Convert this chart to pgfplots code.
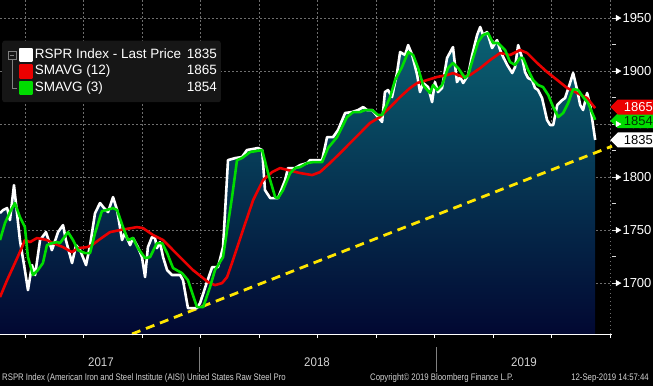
\documentclass[border=0pt]{standalone}
\usepackage{pgfplots}
\pgfplotsset{compat=1.18}
\usepackage{pgfplotstable}
\usepgfplotslibrary{fillbetween}
\usetikzlibrary{shapes.symbols}
\usepackage{fontspec}
\setmainfont{Liberation Sans}
\newfontfamily\footfont[FakeStretch=0.82]{Liberation Sans}
\newfontfamily\yearfont[FakeStretch=0.92]{Liberation Sans}

\definecolor{bbred}{RGB}{235,0,0}
\definecolor{bbgreen}{RGB}{0,220,0}
\definecolor{bbyellow}{RGB}{255,230,0}
\definecolor{areatop}{RGB}{10,98,115}
\definecolor{areabot}{RGB}{2,8,50}
\definecolor{gridc}{RGB}{110,110,110}
\definecolor{legbg}{RGB}{22,22,22}
\definecolor{footc}{RGB}{210,210,210}
\definecolor{darkgreentext}{RGB}{0,50,0}
\pagecolor{black}

\pgfplotstableread{
x y
2017.160 1766.0
2017.173 1768.9
2017.190 1770.8
2017.202 1759.4
2017.219 1792.4
2017.244 1740.6
2017.265 1712.3
2017.278 1693.4
2017.295 1717.0
2017.308 1707.6
2017.329 1740.6
2017.354 1748.1
2017.379 1731.1
2017.405 1748.1
2017.426 1754.7
2017.438 1740.6
2017.464 1718.9
2017.481 1735.8
2017.498 1731.1
2017.523 1717.0
2017.540 1735.8
2017.561 1766.0
2017.582 1775.5
2017.599 1770.8
2017.616 1767.0
2017.637 1781.1
2017.654 1768.9
2017.675 1740.6
2017.687 1747.2
2017.709 1735.8
2017.721 1742.5
2017.742 1733.9
2017.759 1724.5
2017.772 1705.7
2017.784 1733.9
2017.801 1743.4
2017.814 1742.5
2017.822 1733.0
2017.835 1738.7
2017.848 1724.5
2017.865 1712.3
2017.886 1707.6
2017.920 1707.6
2017.932 1702.8
2017.953 1676.4
2017.991 1676.4
2018.004 1681.1
2018.029 1698.1
2018.055 1715.1
2018.080 1715.1
2018.101 1733.9
2018.122 1816.0
2018.152 1817.9
2018.181 1818.9
2018.202 1825.5
2018.249 1827.4
2018.266 1825.5
2018.278 1787.7
2018.300 1780.2
2018.333 1780.2
2018.363 1797.2
2018.375 1808.5
2018.405 1808.5
2018.426 1811.3
2018.456 1813.2
2018.468 1816.0
2018.519 1816.0
2018.540 1837.7
2018.565 1837.7
2018.586 1844.3
2018.616 1860.4
2018.645 1861.3
2018.671 1863.2
2018.692 1866.0
2018.709 1863.2
2018.730 1863.2
2018.755 1856.6
2018.772 1852.0
2018.784 1880.2
2018.797 1882.1
2018.814 1875.5
2018.835 1898.1
2018.848 1917.9
2018.869 1915.1
2018.882 1924.5
2018.899 1915.1
2018.920 1896.2
2018.932 1880.2
2018.945 1888.7
2018.966 1884.9
2018.983 1870.7
2018.995 1889.6
2019.008 1880.2
2019.025 1884.0
2019.046 1912.3
2019.071 1922.6
2019.088 1889.6
2019.101 1894.4
2019.114 1888.7
2019.135 1896.2
2019.152 1915.1
2019.173 1934.0
2019.186 1941.5
2019.198 1934.0
2019.215 1936.8
2019.236 1921.7
2019.257 1929.2
2019.270 1919.8
2019.283 1913.2
2019.300 1905.7
2019.321 1898.1
2019.333 1903.8
2019.346 1924.5
2019.363 1912.3
2019.375 1899.1
2019.388 1893.4
2019.405 1891.5
2019.417 1884.0
2019.430 1882.1
2019.447 1874.5
2019.468 1853.8
2019.481 1849.1
2019.494 1849.1
2019.511 1867.9
2019.532 1872.6
2019.544 1874.5
2019.565 1888.7
2019.578 1898.1
2019.595 1882.1
2019.608 1867.9
2019.620 1863.2
2019.637 1879.3
2019.650 1867.9
2019.671 1835.0
}\whitetab

\pgfplotstableread{
x y
2017.160 1686.8
2017.190 1702.8
2017.223 1718.9
2017.253 1733.9
2017.265 1740.6
2017.287 1738.7
2017.316 1742.5
2017.358 1740.6
2017.384 1737.7
2017.426 1733.9
2017.464 1729.2
2017.489 1733.0
2017.527 1733.9
2017.548 1735.8
2017.582 1741.5
2017.624 1748.1
2017.666 1750.0
2017.738 1752.8
2017.763 1751.9
2017.806 1745.3
2017.848 1740.6
2017.890 1731.1
2017.932 1721.7
2017.974 1712.3
2018.017 1704.7
2018.038 1700.9
2018.067 1698.1
2018.097 1700.0
2018.118 1705.7
2018.143 1721.7
2018.185 1750.0
2018.228 1778.3
2018.270 1797.2
2018.308 1804.7
2018.342 1808.5
2018.375 1806.6
2018.426 1803.8
2018.477 1801.9
2018.510 1804.7
2018.552 1813.2
2018.595 1822.6
2018.637 1832.1
2018.679 1841.5
2018.721 1851.0
2018.763 1856.6
2018.806 1866.0
2018.848 1875.5
2018.890 1884.0
2018.920 1888.7
2018.962 1891.5
2019.004 1894.4
2019.046 1896.2
2019.071 1898.1
2019.114 1894.4
2019.143 1896.2
2019.186 1902.8
2019.228 1910.4
2019.270 1917.0
2019.312 1915.1
2019.354 1919.8
2019.384 1917.0
2019.426 1907.6
2019.468 1899.1
2019.511 1891.5
2019.553 1884.0
2019.595 1879.3
2019.637 1874.5
2019.671 1865.0
}\redtab

\pgfplotstableread{
x y
2017.160 1740.6
2017.181 1756.6
2017.202 1767.0
2017.223 1775.5
2017.244 1762.3
2017.265 1752.8
2017.278 1724.5
2017.299 1707.6
2017.320 1712.3
2017.341 1718.9
2017.358 1735.8
2017.379 1737.7
2017.401 1738.7
2017.413 1737.7
2017.447 1748.1
2017.468 1740.6
2017.489 1731.1
2017.519 1728.3
2017.540 1728.3
2017.561 1747.2
2017.590 1767.9
2017.611 1768.9
2017.637 1770.8
2017.654 1768.9
2017.679 1752.8
2017.700 1740.6
2017.721 1742.5
2017.742 1733.0
2017.772 1723.6
2017.793 1724.5
2017.822 1737.7
2017.844 1737.7
2017.865 1728.3
2017.890 1714.2
2017.928 1709.4
2017.953 1702.8
2017.991 1677.4
2018.017 1677.4
2018.046 1696.2
2018.067 1712.3
2018.101 1724.5
2018.118 1750.0
2018.139 1781.1
2018.160 1816.0
2018.181 1817.9
2018.215 1823.6
2018.266 1825.5
2018.291 1803.8
2018.321 1781.1
2018.333 1780.2
2018.354 1787.7
2018.384 1803.8
2018.405 1808.5
2018.426 1809.4
2018.456 1813.2
2018.481 1814.1
2018.519 1814.1
2018.544 1827.4
2018.582 1837.7
2018.624 1856.6
2018.650 1861.3
2018.679 1861.3
2018.700 1863.2
2018.730 1863.2
2018.755 1858.5
2018.772 1858.5
2018.806 1875.5
2018.827 1891.5
2018.856 1903.8
2018.882 1917.9
2018.903 1915.1
2018.924 1902.8
2018.945 1886.8
2018.974 1879.3
2018.987 1886.8
2019.004 1882.1
2019.025 1886.8
2019.050 1902.8
2019.071 1907.6
2019.093 1902.8
2019.122 1893.4
2019.135 1896.2
2019.156 1912.3
2019.177 1927.4
2019.198 1934.0
2019.219 1935.8
2019.240 1926.4
2019.261 1926.4
2019.291 1919.8
2019.312 1908.5
2019.333 1905.7
2019.354 1912.3
2019.367 1912.3
2019.388 1901.0
2019.409 1891.5
2019.430 1886.8
2019.451 1884.9
2019.473 1877.4
2019.494 1866.0
2019.515 1856.6
2019.536 1860.4
2019.557 1869.8
2019.578 1883.0
2019.599 1882.1
2019.620 1875.5
2019.641 1869.8
2019.671 1854.0
}\greentab

\begin{document}
\begin{tikzpicture}
\begin{axis}[
  at={(0pt,52pt)}, anchor=south west,
  scale only axis, width=612pt, height=334pt,
  xmin=2017.160, xmax=2019.742, ymin=1652, ymax=1967,
  clip=false,
  axis background/.style={fill=black},
  axis line style={draw=none},
  xtick={2017.0187,2017.2655,2017.5123,2017.7591,2018.0059,2018.2527,2018.4996,2018.7464,2018.9932,2019.2401,2019.4869,2019.7338},
  xticklabels={},
  minor x tick num=2,
  xtick pos=bottom, ytick pos=right,
  tick align=outside,
  major tick length=4pt, minor tick length=4pt,
  x tick style={white, line width=0.8pt},
  y tick style={white!85!black, line width=0.9pt},
  xmajorgrids, ymajorgrids,
  grid style={gridc, line width=0.8pt, dash pattern=on 1.5pt off 2.5pt},
  ytick={1700,1750,1800,1850,1900,1950},
  yticklabels={1700,1750,1800,1850,1900,1950},
  yticklabel pos=right,
  minor y tick num=1,
  yticklabel style={font=\fontsize{13}{13}\selectfont, text=white, xshift=3pt},
  legend style={at={(0.0033,0.8787)}, anchor=north west, fill=legbg, draw=none,
    rounded corners=2.5pt, text=white, font=\fontsize{13.5}{15}\selectfont,
    inner xsep=2.5pt, inner ysep=6pt, row sep=0pt,
    nodes={inner sep=1.5pt, text height=10pt, text depth=3.5pt}},
  legend cell align=left,
  legend image code/.code={\path (0pt,0pt); \fill[#1, sharp corners] (14pt,-5.8pt) rectangle (26pt,5.8pt);},
]
\addplot[name path=W, draw=none, forget plot] table[x=x,y=y] {\whitetab};
\addplot[name path=B, draw=none, forget plot] coordinates {(2017.160,1652) (2019.671,1652)};
\addplot[top color=areatop, bottom color=areabot, draw=none, forget plot] fill between[of=W and B];
\addplot[color=bbyellow, line width=2.8pt, dash pattern=on 9pt off 6pt, forget plot] coordinates {(2017.717,1652) (2019.742,1829.1)};
\addplot[color=white, line width=2.6pt, line join=round] table[x=x,y=y] {\whitetab};
\addlegendentry{\makebox[182pt][l]{RSPR Index - Last Price\hfill 1835}}
\addplot[color=bbred, line width=2.6pt, line join=round] table[x=x,y=y] {\redtab};
\addlegendentry{\makebox[182pt][l]{SMAVG (12)\hfill 1865}}
\addplot[color=bbgreen, line width=2.6pt, line join=round] table[x=x,y=y] {\greentab};
\addlegendentry{\makebox[182pt][l]{SMAVG (3)\hfill 1854}}
\addplot[only marks, mark=triangle*, color=white, mark size=3.2pt, mark options={rotate=-90}, forget plot]
  coordinates {(2019.766,1700) (2019.766,1750) (2019.766,1800) (2019.766,1850) (2019.766,1900) (2019.766,1950)};
\draw[white, line width=0.9pt] (rel axis cs:0,0) -- (rel axis cs:1,0);
\node[signal, signal to=west, fill=bbgreen, text=darkgreentext, minimum width=40pt, minimum height=15pt, inner sep=0pt, anchor=east, font=\fontsize{13}{13}\selectfont] at (axis cs:2019.915,1853.2) {\hspace{6pt}1854};
\node[signal, signal to=west, fill=bbred, text=white, minimum width=40pt, minimum height=15pt, inner sep=0pt, anchor=east, font=\fontsize{13}{13}\selectfont] at (axis cs:2019.915,1866) {\hspace{6pt}1865};
\node[signal, signal to=west, fill=white, text=black, minimum width=40pt, minimum height=15pt, inner sep=0pt, anchor=east, font=\fontsize{13}{13}\selectfont] at (axis cs:2019.915,1835) {\hspace{6pt}1835};
\end{axis}
% legend tree glyph
\draw[gray, line width=0.7pt] (8pt,327pt) rectangle (16pt,335pt);
\draw[gray, line width=0.7pt] (10pt,331pt) -- (14pt,331pt);
\draw[gray, line width=0.7pt] (12pt,327pt) -- (12pt,298pt) -- (17pt,298pt);
% year band
\draw[gray, line width=0.8pt] (199pt,39pt) -- (199pt,14pt);
\draw[gray, line width=0.8pt] (436pt,39pt) -- (436pt,14pt);
\node[font=\yearfont\fontsize{12.5}{12.5}\selectfont, text=footc] at (101pt,24pt) {2017};
\node[font=\yearfont\fontsize{12.5}{12.5}\selectfont, text=footc] at (317pt,24pt) {2018};
\node[font=\yearfont\fontsize{12.5}{12.5}\selectfont, text=footc] at (524pt,24pt) {2019};
% footer
\node[font=\footfont\fontsize{9.5}{9.5}\selectfont, text=footc, anchor=west, inner sep=0pt] at (2pt,8pt) {RSPR Index (American Iron and Steel Institute (AISI) United States Raw Steel Pro};
\node[font=\footfont\fontsize{9.5}{9.5}\selectfont, text=footc, anchor=west, inner sep=0pt] at (370pt,8pt) {Copyright© 2019 Bloomberg Finance L.P.};
\node[font=\footfont\fontsize{9.5}{9.5}\selectfont, text=footc, anchor=east, inner sep=0pt] at (649pt,8pt) {12-Sep-2019 14:57:44};
\pgfresetboundingbox
\path (0,0) rectangle (653pt,386pt);
\end{tikzpicture}
\end{document}
